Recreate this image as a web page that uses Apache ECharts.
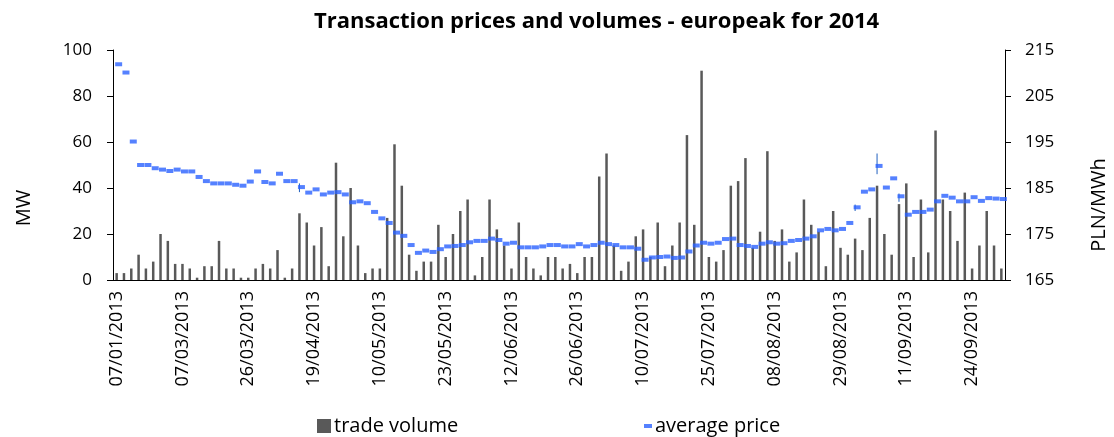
<!DOCTYPE html>
<html>
<head>
<meta charset="utf-8">
<script src="https://cdn.jsdelivr.net/npm/echarts@6/dist/echarts.min.js"></script>
<style>
html, body { margin: 0; padding: 0; background: #fff; }
#chart { width: 1114px; height: 437px; }
</style>
</head>
<body>
<div id="chart"></div>
<script>
var dates = [
    '07/01/2013', '14/01/2013', '21/01/2013', '28/01/2013', '04/02/2013', '11/02/2013', '18/02/2013', '25/02/2013', '01/03/2013',
    '07/03/2013', '08/03/2013', '11/03/2013', '12/03/2013', '13/03/2013', '15/03/2013', '18/03/2013', '20/03/2013', '22/03/2013',
    '26/03/2013', '27/03/2013', '28/03/2013', '02/04/2013', '04/04/2013', '08/04/2013', '10/04/2013', '12/04/2013', '16/04/2013',
    '19/04/2013', '22/04/2013', '23/04/2013', '24/04/2013', '26/04/2013', '29/04/2013', '30/04/2013', '02/05/2013', '07/05/2013',
    '10/05/2013', '13/05/2013', '14/05/2013', '15/05/2013', '16/05/2013', '17/05/2013', '20/05/2013', '21/05/2013', '22/05/2013',
    '23/05/2013', '24/05/2013', '27/05/2013', '28/05/2013', '29/05/2013', '31/05/2013', '04/06/2013', '06/06/2013', '10/06/2013',
    '12/06/2013', '13/06/2013', '14/06/2013', '17/06/2013', '18/06/2013', '19/06/2013', '20/06/2013', '24/06/2013', '25/06/2013',
    '26/06/2013', '27/06/2013', '28/06/2013', '01/07/2013', '02/07/2013', '03/07/2013', '04/07/2013', '08/07/2013', '09/07/2013',
    '10/07/2013', '11/07/2013', '12/07/2013', '15/07/2013', '16/07/2013', '17/07/2013', '18/07/2013', '22/07/2013', '24/07/2013',
    '25/07/2013', '26/07/2013', '29/07/2013', '30/07/2013', '31/07/2013', '01/08/2013', '02/08/2013', '05/08/2013', '07/08/2013',
    '08/08/2013', '09/08/2013', '12/08/2013', '14/08/2013', '16/08/2013', '19/08/2013', '21/08/2013', '23/08/2013', '27/08/2013',
    '29/08/2013', '30/08/2013', '02/09/2013', '03/09/2013', '04/09/2013', '05/09/2013', '06/09/2013', '09/09/2013', '10/09/2013',
    '11/09/2013', '12/09/2013', '13/09/2013', '16/09/2013', '17/09/2013', '18/09/2013', '19/09/2013', '20/09/2013', '23/09/2013',
    '24/09/2013', '25/09/2013', '26/09/2013', '27/09/2013', '30/09/2013'
];
var volumes = [
    3, 3, 5, 11, 5, 8, 20, 17, 7, 7, 5, 1, 6, 6, 17, 5, 5, 1, 1, 5,
    7, 5, 13, 1, 5, 29, 25, 15, 23, 6, 51, 19, 40, 15, 3, 5, 5, 27, 59, 41,
    11, 4, 8, 8, 24, 10, 20, 30, 35, 2, 10, 35, 22, 15, 5, 25, 10, 5, 2, 10,
    10, 5, 7, 3, 10, 10, 45, 55, 15, 4, 8, 19, 22, 10, 25, 6, 15, 25, 63, 24,
    91, 10, 8, 13, 41, 43, 53, 14, 21, 56, 17, 22, 8, 12, 35, 24, 21, 6, 30, 14,
    11, 18, 13, 27, 41, 20, 11, 33, 42, 10, 35, 12, 65, 35, 30, 17, 38, 5, 15, 30,
    15, 5
];
var prices = [
    211.9, 210.1, 195.1, 190.0, 190.0, 189.3, 189.0, 188.7, 189.0, 188.6,
    188.6, 187.4, 186.5, 186.0, 186.0, 186.0, 185.7, 185.5, 186.4, 188.6,
    186.3, 186.0, 188.1, 186.5, 186.5, 185.2, 184.0, 184.7, 183.6, 184.0,
    184.1, 183.6, 181.9, 182.1, 181.7, 179.8, 178.4, 177.4, 175.3, 174.6,
    172.6, 170.9, 171.4, 171.1, 171.7, 172.3, 172.4, 172.6, 173.2, 173.5,
    173.5, 174.0, 173.7, 172.9, 173.1, 172.1, 172.1, 172.1, 172.3, 172.6,
    172.6, 172.3, 172.3, 172.8, 172.3, 172.6, 173.1, 172.8, 172.6, 172.1,
    172.1, 171.8, 169.4, 169.9, 170.0, 170.1, 169.8, 169.9, 171.2, 172.5,
    173.1, 172.9, 173.1, 173.9, 174.0, 172.6, 172.4, 172.2, 172.9, 173.2,
    172.9, 173.0, 173.5, 173.7, 174.0, 174.5, 175.8, 176.1, 175.8, 176.1,
    177.4, 180.8, 184.2, 184.7, 189.8, 185.1, 187.1, 183.2, 179.2, 179.8,
    179.8, 180.3, 182.1, 183.3, 182.9, 182.1, 182.1, 183.0, 182.2, 182.8,
    182.7, 182.6
];
// [category index, low, high]
var priceRanges = [
    [25, 184.1, 186.0],
    [101, 180.0, 181.4],
    [104, 188.0, 192.5],
    [107, 182.0, 183.8]
];

var FONT = 'Open Sans';
var chart = echarts.init(document.getElementById('chart'));
chart.setOption({
    animation: false,
    textStyle: { fontFamily: FONT, color: '#000' },
    title: {
        text: 'Transaction prices and volumes - europeak for 2014',
        left: 309,
        top: 6,
        textStyle: { fontFamily: FONT, fontSize: 22, fontWeight: 'bold', color: '#000' }
    },
    legend: [{
        left: 312,
        top: 411,
        itemWidth: 14,
        itemHeight: 14,
        data: [{ name: 'trade volume', icon: 'rect' }],
        textStyle: { fontFamily: FONT, fontSize: 20, color: '#000', padding: [0, 0, 0, -2] }
    }, {
        left: 639,
        top: 411,
        itemWidth: 8,
        itemHeight: 4,
        data: [{ name: 'average price', icon: 'rect' }],
        textStyle: { fontFamily: FONT, fontSize: 20, color: '#000', padding: [0, 0, 0, -2] }
    }],
    grid: { left: 113, right: 109, top: 50, bottom: 157 },
    xAxis: [{
        type: 'category',
        data: dates,
        axisLine: { lineStyle: { color: '#000', width: 1 } },
        axisTick: { interval: 8, length: 7, lineStyle: { color: '#000' } },
        axisLabel: { interval: 8, rotate: 90, margin: 11, fontSize: 18, color: '#000', fontFamily: FONT }
    }, {
        type: 'category',
        data: dates,
        position: 'bottom',
        axisLine: { show: false },
        axisTick: { interval: 8, inside: true, length: 7, lineStyle: { color: '#000' } },
        axisLabel: { show: false }
    }],
    yAxis: [{
        type: 'value',
        min: 0,
        max: 100,
        interval: 20,
        splitLine: { show: false },
        axisLine: { show: true, lineStyle: { color: '#000' } },
        axisTick: { show: true, length: 6, lineStyle: { color: '#000' } },
        axisLabel: { margin: 21, fontSize: 17, color: '#000', fontFamily: FONT }
    }, {
        type: 'value',
        position: 'right',
        min: 165,
        max: 215,
        interval: 10,
        splitLine: { show: false },
        axisLine: { show: true, lineStyle: { color: '#000' } },
        axisTick: { show: true, length: 6, lineStyle: { color: '#000' } },
        axisLabel: { margin: 20, fontSize: 17, color: '#000', fontFamily: FONT }
    }],
    graphic: [{
        type: 'text',
        x: 24,
        y: 208,
        rotation: Math.PI / 2,
        style: { text: 'MW', fontFamily: FONT, fontSize: 20, fill: '#000', align: 'center', verticalAlign: 'middle' }
    }, {
        type: 'text',
        x: 1099,
        y: 205,
        rotation: Math.PI / 2,
        style: { text: 'PLN/MWh', fontFamily: FONT, fontSize: 20, fill: '#000', align: 'center', verticalAlign: 'middle' }
    }],
    series: [{
        name: 'trade volume',
        type: 'bar',
        data: volumes,
        barWidth: 2.5,
        itemStyle: { color: '#595959' }
    }, {
        name: 'price range',
        type: 'custom',
        yAxisIndex: 1,
        data: priceRanges,
        encode: { x: 0, y: [1, 2] },
        renderItem: function (params, api) {
            var lo = api.coord([api.value(0), api.value(1)]);
            var hi = api.coord([api.value(0), api.value(2)]);
            return {
                type: 'line',
                shape: { x1: lo[0], y1: lo[1], x2: hi[0], y2: hi[1] },
                style: { stroke: '#1f5fbf', lineWidth: 1 }
            };
        },
        z: 1
    }, {
        name: 'average price',
        type: 'scatter',
        yAxisIndex: 1,
        data: prices,
        symbol: 'rect',
        symbolSize: [7, 4],
        symbolOffset: [2, 0],
        itemStyle: { color: '#2a62ff' },
        z: 3
    }]
});
</script>
</body>
</html>
